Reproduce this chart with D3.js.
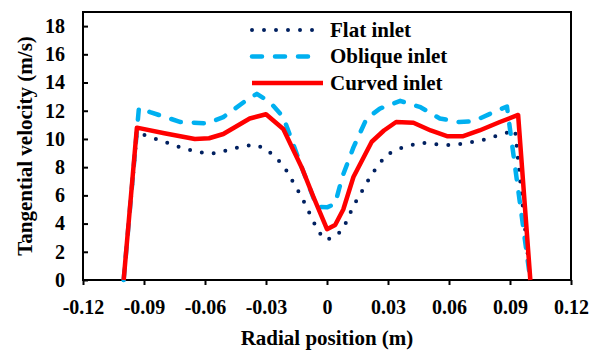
<!DOCTYPE html>
<html lang="en">
<head>
    <meta charset="UTF-8">
    <title>Tangential velocity</title>
    <script src="https://d3js.org/d3.v7.min.js"></script>
    <style>
        body {
            margin: 0;
            padding: 0;
            background: #fff;
        }
        svg text {
            font-family: "Liberation Serif", "Times New Roman", serif;
            font-weight: bold;
            fill: #000;
        }
    </style>
</head>
<body>
    <svg width="600" height="351"></svg>

    <script>
        // tick values
        const xTicks = [-0.12, -0.09, -0.06, -0.03, 0, 0.03, 0.06, 0.09, 0.12];
        const yTicks = [0, 2, 4, 6, 8, 10, 12, 14, 16, 18];

        // Flat inlet
        const flatX = [-0.1, -0.0935, -0.082, -0.07, -0.059, -0.0535, -0.047, -0.036, -0.030, -0.0215, -0.0125, -0.0045, -0.001, 0.004, 0.008, 0.013, 0.022, 0.029, 0.035, 0.046, 0.052, 0.058, 0.064, 0.076, 0.0875, 0.0925, 0.1];
        const flatY = [0, 10.45, 9.9, 9.3, 8.95, 9.0, 9.3, 9.6, 9.3, 8.15, 5.9, 3.5, 2.85, 3.05, 3.65, 5.25, 7.5, 8.85, 9.3, 9.75, 9.65, 9.55, 9.6, 9.9, 10.4, 10.6, 0];

        // Oblique inlet
        const obliqueX = [-0.1, -0.0925, -0.087, -0.072, -0.059, -0.051, -0.041, -0.0345, -0.028, -0.0215, -0.013, -0.005, 0, 0.004, 0.0075, 0.013, 0.0195, 0.026, 0.036, 0.046, 0.0555, 0.065, 0.072, 0.082, 0.0885, 0.1];
        const obliqueY = [0, 12.2, 11.9, 11.2, 11.1, 11.55, 12.6, 13.2, 12.6, 11.55, 8.2, 5.2, 5.15, 5.4, 7.3, 9.4, 11.45, 12.15, 12.7, 12.25, 11.45, 11.2, 11.25, 11.9, 12.3, 0];

        // Curved inlet
        const curvedX = [-0.1, -0.0935, -0.08, -0.065, -0.058, -0.051, -0.038, -0.030, -0.0215, -0.0125, -0.0067, 0, 0.004, 0.008, 0.013, 0.022, 0.028, 0.034, 0.0425, 0.051, 0.059, 0.067, 0.075, 0.085, 0.094, 0.1];
        const curvedY = [0, 10.8, 10.4, 10.0, 10.05, 10.35, 11.45, 11.75, 10.7, 8.0, 5.9, 3.6, 3.9, 5.0, 7.3, 9.8, 10.6, 11.2, 11.15, 10.6, 10.2, 10.2, 10.6, 11.2, 11.7, 0];

        const series = [
            { name: "Flat inlet", xs: flatX, ys: flatY, color: "#002060", width: 4, dash: "0,12" },
            { name: "Oblique inlet", xs: obliqueX, ys: obliqueY, color: "#00b0f0", width: 4.5, dash: "10,13" },
            { name: "Curved inlet", xs: curvedX, ys: curvedY, color: "#ff0000", width: 4.5, dash: null }
        ];

        const svg = d3.select("svg");
        const plotL = 83, plotR = 571, plotT = 12, plotB = 280;

        const x = d3.scaleLinear().domain([-0.12, 0.12]).range([plotL, plotR]);
        const y = d3.scaleLinear().domain([0, 19]).range([plotB, plotT]);

        // axes
        svg.append("g")
            .attr("transform", `translate(0,${plotB})`)
            .call(d3.axisBottom(x).tickValues(xTicks)
                .tickFormat(d => d === 0 ? "0" : d.toFixed(2))
                .tickSizeInner(5).tickSizeOuter(0).tickPadding(15))
            .call(g => g.select(".domain").remove())
            .call(g => g.selectAll("line").attr("stroke", "#000").attr("stroke-width", 2))
            .call(g => g.selectAll("text").style("font-size", "20px"));

        svg.append("g")
            .attr("transform", `translate(${plotL},0)`)
            .call(d3.axisLeft(y).tickValues(yTicks)
                .tickSizeInner(-5).tickSizeOuter(0).tickPadding(18))
            .call(g => g.select(".domain").remove())
            .call(g => g.selectAll("line").attr("stroke", "#000").attr("stroke-width", 2))
            .call(g => g.selectAll("text").style("font-size", "20px"));

        // frame
        svg.append("rect")
            .attr("x", plotL).attr("y", plotT)
            .attr("width", plotR - plotL).attr("height", plotB - plotT)
            .attr("fill", "none").attr("stroke", "#000").attr("stroke-width", 2);

        // lines
        const line = d3.line().x(d => x(d[0])).y(d => y(d[1]));
        series.forEach(s => {
            const pts = s.xs.map((v, i) => [v, s.ys[i]]);
            svg.append("path")
                .datum(pts)
                .attr("d", line)
                .attr("fill", "none")
                .attr("stroke", s.color)
                .attr("stroke-width", s.width)
                .attr("stroke-linecap", s.dash ? "round" : "butt")
                .attr("stroke-linejoin", "round")
                .attr("stroke-dasharray", s.dash);
        });

        // legend
        const legend = svg.append("g").attr("transform", "translate(252,30)");
        series.forEach((s, i) => {
            legend.append("line")
                .attr("x1", 0).attr("x2", s.dash ? 66 : 71)
                .attr("y1", i * 26.5).attr("y2", i * 26.5)
                .attr("stroke", s.color)
                .attr("stroke-width", s.width)
                .attr("stroke-linecap", s.dash ? "round" : "butt")
                .attr("stroke-dasharray", s.dash);
            legend.append("text")
                .attr("x", 78).attr("y", i * 26.5)
                .attr("dy", "0.32em")
                .style("font-size", "21px")
                .text(s.name);
        });

        // axis titles
        svg.append("text")
            .attr("x", (plotL + plotR) / 2).attr("y", 345)
            .attr("text-anchor", "middle")
            .style("font-size", "21px")
            .text("Radial position (m)");

        svg.append("text")
            .attr("transform", `translate(32,${(plotT + plotB) / 2}) rotate(-90)`)
            .attr("text-anchor", "middle")
            .style("font-size", "21px")
            .text("Tangential velocity (m/s)");
    </script>
</body>
</html>
